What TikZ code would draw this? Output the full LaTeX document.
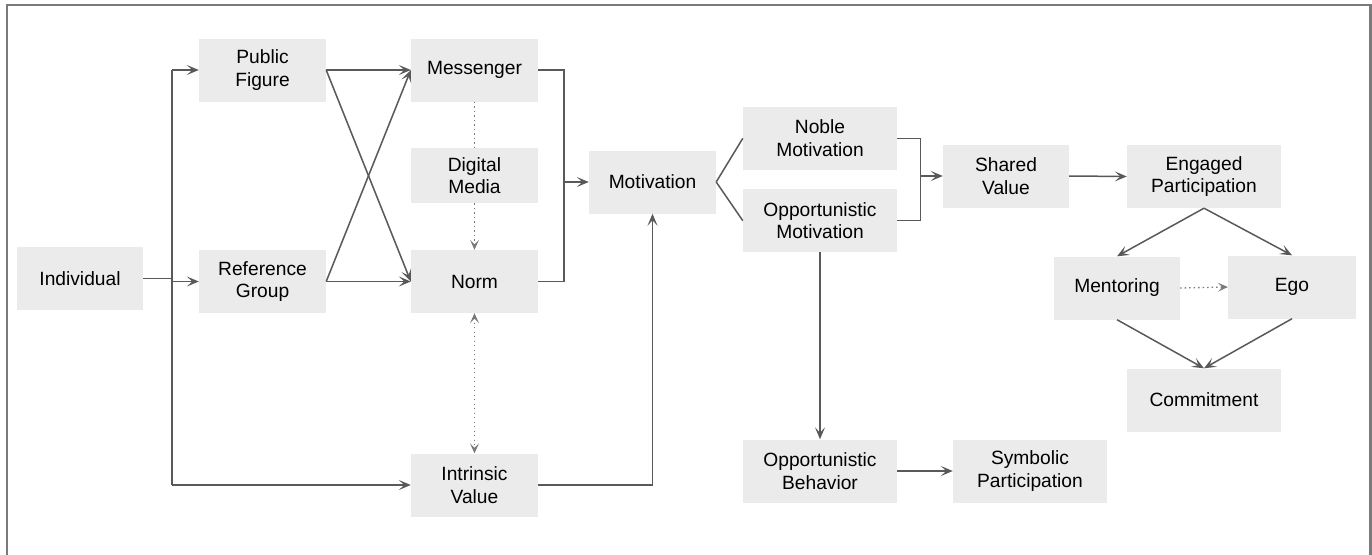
\documentclass[tikz,border=0pt]{standalone}
\usepackage{fontspec}
\setmainfont{Liberation Sans}
\usetikzlibrary{arrows.meta}
\definecolor{boxfill}{HTML}{EBEBEB}
\definecolor{linec}{HTML}{595959}
\definecolor{framec}{HTML}{7A7A7A}
\tikzset{
  box/.style={fill=boxfill, draw=none, inner sep=0pt, align=center,
    minimum width=127pt, minimum height=63pt,
    font=\fontsize{19.2}{22.7}\selectfont, text=black},
  wide/.style={box, minimum width=154pt},
  conn/.style={draw=linec, line width=1.5pt},
  arr/.style={conn, -{Stealth[length=12pt,width=10pt,inset=5.5pt]}},
  dots/.style={draw=linec!80, line width=1.3pt, dash pattern=on 1.3pt off 3.2pt},
  dtip/.style={-{Stealth[length=10pt,width=9pt,inset=4.5pt]}},
}
\begin{document}
\begin{tikzpicture}[x=1pt,y=-1pt]
\useasboundingbox (0,0) rectangle (1372,554);
% frame
\draw[framec, line width=2.2pt] (7,560) -- (7,5) -- (1370.5,5) -- (1370.5,560);

% nodes
\node[box, minimum width=126pt] (ind) at (80,278.5) {Individual};
\node[box] (pf) at (262.5,70) {Public\\Figure};
\node[box] (rg) at (262.5,281.5) {Reference\\Group};
\node[box] (msg) at (474.5,70) {Messenger};
\node[box, minimum height=55pt] (dm) at (474.5,175.7) {Digital\\Media};
\node[box] (norm) at (474.5,281.5) {Norm};
\node[box] (iv) at (474.5,485) {Intrinsic\\Value};
\node[box] (mot) at (652.5,182) {Motivation};
\node[wide] (nm) at (820,138.3) {Noble\\Motivation};
\node[wide] (om) at (820,220.7) {Opportunistic\\Motivation};
\node[wide] (ob) at (820,471) {Opportunistic\\Behavior};
\node[wide] (sp) at (1030,471) {Symbolic\\Participation};
\node[box, minimum width=126pt] (sv) at (1006,176) {Shared\\Value};
\node[wide] (ep) at (1204,176.5) {Engaged\\Participation};
\node[box, minimum width=126pt] (ment) at (1117,288) {Mentoring};
\node[box, minimum width=128pt] (ego) at (1292,287) {Ego};
\node[wide] (com) at (1204,400) {Commitment};

% junctions
\coordinate (j) at (172,278.5);
\coordinate (jt) at (172,70);
\coordinate (jr) at (172,281.5);
\coordinate (jb) at (172,485);
\coordinate (bx) at (564,182);
\coordinate (by) at (920.7,176);

% connectors
\draw[conn] (ind.east) -- (j) -- (jr);
\draw[conn] (jt) -- (jb);
\draw[arr] (jt) -- (pf.west);
\draw[arr] (jr) -- (rg.west);
\draw[arr] (jb) -- (iv.west);

\draw[arr] (pf.east) -- (msg.west);
\draw[arr] (pf.east) -- (norm.west);
\draw[arr] (rg.east) -- (msg.west);
\draw[arr] (rg.east) -- (norm.west);

\draw[dots] (msg.south) -- (dm.north);
\draw[dots, dtip] (dm.south) -- (norm.north);
\draw[dots, {Stealth[length=10pt,width=9pt,inset=4.5pt]}-{Stealth[length=10pt,width=9pt,inset=4.5pt]}] (norm.south) -- (iv.north);

\draw[conn] (msg.east) -| (bx) |- (norm.east);
\draw[arr] (bx) -- (mot.west);
\draw[arr] (iv.east) -| (mot.south);

\draw[conn] (mot.east) -- (nm.west);
\draw[conn] (mot.east) -- (om.west);

\draw[conn] (nm.east) -| (by) |- (om.east);
\draw[arr] (by) -- (sv.west);
\draw[arr] (sv.east) -- (ep.west);

\draw[arr] (ep.south) -- (ment.north);
\draw[arr] (ep.south) -- (ego.north);
\draw[arr] (ment.south) -- (com.north);
\draw[arr] (ego.south) -- (com.north);
\draw[dots, dtip] (ment.east) -- (ego.west);

\draw[arr] (om.south) -- (ob.north);
\draw[arr] (ob.east) -- (sp.west);
\end{tikzpicture}
\end{document}
